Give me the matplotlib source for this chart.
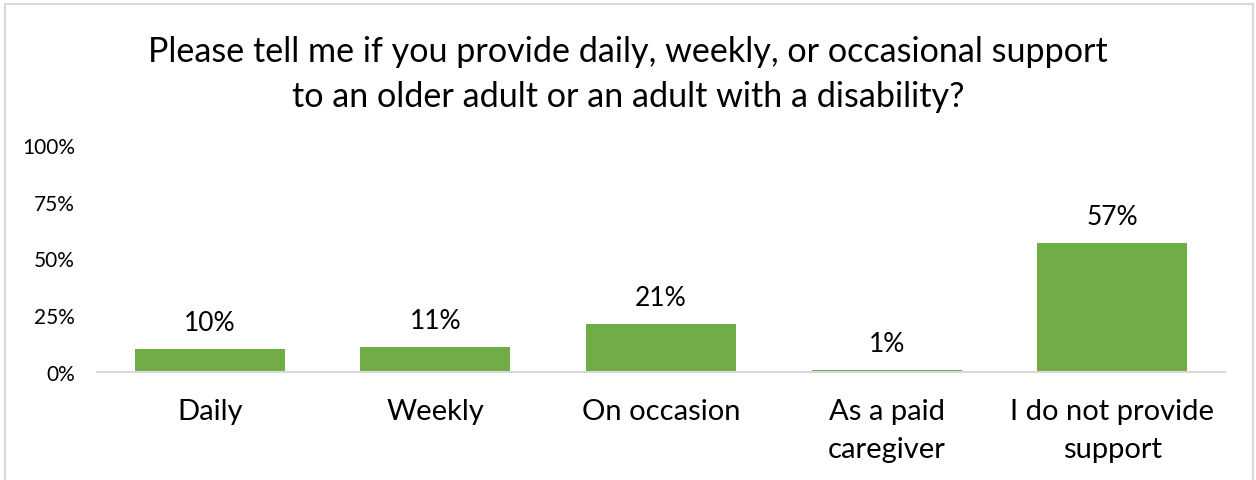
import matplotlib
matplotlib.use("Agg")
import matplotlib.pyplot as plt
from matplotlib.patches import Rectangle

categories = ["Daily", "Weekly", "On occasion", "As a paid\ncaregiver", "I do not provide\nsupport"]
values = [0.10, 0.11, 0.21, 0.01, 0.57]
labels = ["10%", "11%", "21%", "1%", "57%"]
yticks = [0, 0.25, 0.5, 0.75, 1.0]
yticklabels = ["0%", "25%", "50%", "75%", "100%"]
title_lines = ["Please tell me if you provide daily, weekly, or occasional support",
               "to an older adult or an adult with a disability?"]

plt.rcParams['font.family'] = ['Lato', 'DejaVu Sans']

fig = plt.figure(figsize=(12.56, 4.81), dpi=100)
ax = fig.add_axes([97/1256, 1-373/481, (1225-97)/1256, 227/481])

x = list(range(len(categories)))
bars = ax.bar(x, values, width=0.665, color="#70AD47")
for xi, v, lab in zip(x, values, labels):
    ax.annotate(lab, (xi, v), xytext=(0, 10), textcoords="offset points",
                ha="center", va="bottom", fontsize=19, color="#000000")

ax.set_xlim(-0.5, len(categories) - 0.5)
ax.set_ylim(0, 1.0)
ax.set_yticks(yticks)
ax.set_yticklabels(yticklabels, fontsize=15)
ax.set_xticks(x)
ax.set_xticklabels(categories, fontsize=21, linespacing=1.55)
ax.tick_params(axis='y', length=0, pad=16)
ax.tick_params(axis='x', length=0, pad=19)
for s in ["top", "right", "left"]:
    ax.spines[s].set_visible(False)
ax.spines["bottom"].set_color("#D9D9D9")
ax.spines["bottom"].set_linewidth(1.5)

for line, yb in zip(title_lines, [62, 107]):
    fig.text(0.5, 1-yb/481, line, ha="center", va="baseline", fontsize=24.6)

fig.patches.append(Rectangle((5/1256, -0.1), (1253-5)/1256, 1.1 - 5/481, transform=fig.transFigure,
                             fill=False, edgecolor="#D9D9D9", linewidth=1.5))

fig.savefig("out.png", dpi=100)
